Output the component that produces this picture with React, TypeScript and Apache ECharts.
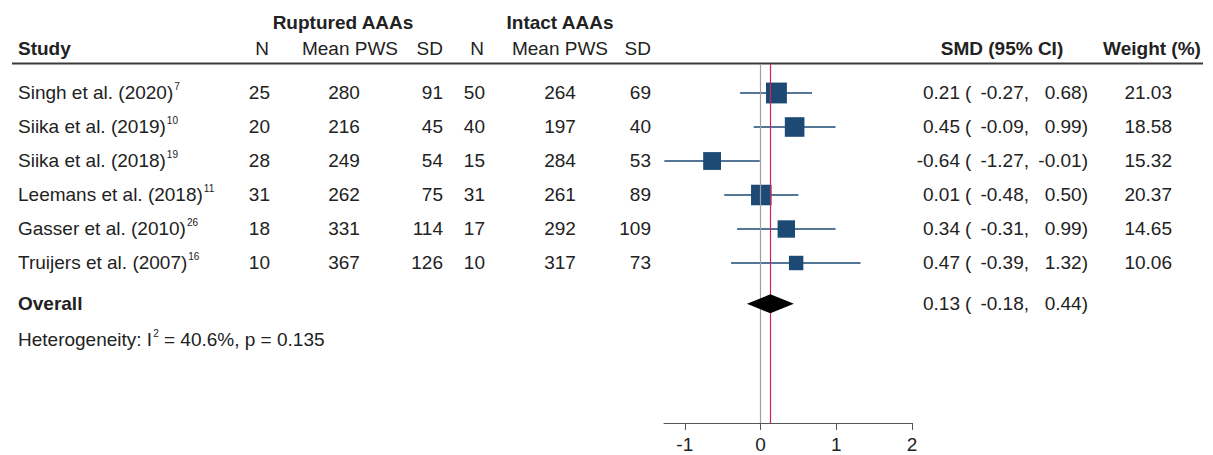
import React, { useEffect, useRef } from "react";
import * as echarts from "echarts";

// ---------- data ----------
const studies = [
  "Singh et al. (2020)",
  "Siika et al. (2019)",
  "Siika et al. (2018)",
  "Leemans et al. (2018)",
  "Gasser et al. (2010)",
  "Truijers et al. (2007)",
];
const refs = ["7", "10", "19", "11", "26", "16"];
const rupN = [25, 20, 28, 31, 18, 10];
const rupMean = [280, 216, 249, 262, 331, 367];
const rupSD = [91, 45, 54, 75, 114, 126];
const intN = [50, 40, 15, 31, 17, 10];
const intMean = [264, 197, 284, 261, 292, 317];
const intSD = [69, 40, 53, 89, 109, 73];
const smd = [0.21, 0.45, -0.64, 0.01, 0.34, 0.47];
const ciLow = [-0.27, -0.09, -1.27, -0.48, -0.31, -0.39];
const ciHigh = [0.68, 0.99, -0.01, 0.5, 0.99, 1.32];
const weights = [21.03, 18.58, 15.32, 20.37, 14.65, 10.06];
const overallSmd = 0.13;
const overallLow = -0.18;
const overallHigh = 0.44;
const hetI2 = 40.6;
const hetP = 0.135;
const xTicks = [-1, 0, 1, 2];

// ---------- layout (row units) ----------
const rowPos = [1, 2, 3, 4, 5, 6];
const overallPos = 7.2;
const hetPos = 8.24;
const headerPos = -0.32;
const groupPos = -1.06;
const rulePos = 0.13;

const FONT = "'Liberation Sans', Arial, Helvetica, sans-serif";
const TXT = "#222222";
const NAVY = "#1d4a74";

type Cell = { x: number; y: number; text: string; align: string; bold?: boolean; rich?: boolean };

function buildCells(): Cell[] {
  const cells: Cell[] = [];
  // group headers
  cells.push({ x: 343, y: groupPos, text: "Ruptured AAAs", align: "center", bold: true });
  cells.push({ x: 560, y: groupPos, text: "Intact AAAs", align: "center", bold: true });
  // column headers
  cells.push({ x: 18, y: headerPos, text: "Study", align: "left", bold: true });
  cells.push({ x: 269, y: headerPos, text: "N", align: "right" });
  cells.push({ x: 350, y: headerPos, text: "Mean PWS", align: "center" });
  cells.push({ x: 443, y: headerPos, text: "SD", align: "right" });
  cells.push({ x: 484, y: headerPos, text: "N", align: "right" });
  cells.push({ x: 560, y: headerPos, text: "Mean PWS", align: "center" });
  cells.push({ x: 651, y: headerPos, text: "SD", align: "right" });
  cells.push({ x: 1002, y: headerPos, text: "SMD (95% CI)", align: "center", bold: true });
  cells.push({ x: 1152, y: headerPos, text: "Weight (%)", align: "center", bold: true });
  // rows
  studies.forEach((s, i) => {
    const y = rowPos[i];
    cells.push({ x: 18, y, text: `{m|${s}}{s|${refs[i]}}`, align: "left", rich: true });
    cells.push({ x: 270, y, text: String(rupN[i]), align: "right" });
    cells.push({ x: 344, y, text: String(rupMean[i]), align: "center" });
    cells.push({ x: 443, y, text: String(rupSD[i]), align: "right" });
    cells.push({ x: 485, y, text: String(intN[i]), align: "right" });
    cells.push({ x: 560, y, text: String(intMean[i]), align: "center" });
    cells.push({ x: 651, y, text: String(intSD[i]), align: "right" });
    cells.push({ x: 960, y, text: smd[i].toFixed(2), align: "right" });
    cells.push({ x: 965, y, text: "(", align: "left" });
    cells.push({ x: 1029, y, text: ciLow[i].toFixed(2) + ",", align: "right" });
    cells.push({ x: 1088, y, text: ciHigh[i].toFixed(2) + ")", align: "right" });
    cells.push({ x: 1172, y, text: weights[i].toFixed(2), align: "right" });
  });
  // overall
  cells.push({ x: 18, y: overallPos, text: "Overall", align: "left", bold: true });
  cells.push({ x: 960, y: overallPos, text: overallSmd.toFixed(2), align: "right" });
  cells.push({ x: 965, y: overallPos, text: "(", align: "left" });
  cells.push({ x: 1029, y: overallPos, text: overallLow.toFixed(2) + ",", align: "right" });
  cells.push({ x: 1088, y: overallPos, text: overallHigh.toFixed(2) + ")", align: "right" });
  // heterogeneity
  cells.push({
    x: 18,
    y: hetPos,
    text: `{m|Heterogeneity: I}{s|2}{m| = ${hetI2.toFixed(1)}%, p = ${hetP.toFixed(3)}}`,
    align: "left",
    rich: true,
  });
  return cells;
}

export default function App() {
  const ref = useRef<HTMLDivElement>(null);

  useEffect(() => {
    if (!ref.current) return;
    const chart = echarts.init(ref.current, undefined, { renderer: "svg" });
    const cells = buildCells();

    const richStyles = {
      m: { fontSize: 19, fontFamily: FONT, fill: TXT, lineHeight: 22 },
      s: { fontSize: 10, fontFamily: FONT, fill: TXT, lineHeight: 10, verticalAlign: "top", padding: [0, 0, 0, 1] },
    };

    const option: any = {
      animation: false,
      backgroundColor: "#ffffff",
      grid: [
        { left: 664, right: 301, top: 64, bottom: 32 },
        { left: 0, right: 0, top: 0, bottom: 0 },
      ],
      xAxis: [
        {
          type: "value",
          gridIndex: 0,
          min: -1.275,
          max: 2,
          splitLine: { show: false },
          axisLine: { show: true, onZero: false, lineStyle: { color: "#555555", width: 1 } },
          axisTick: { show: true, length: 7, customValues: xTicks, lineStyle: { color: "#555555" } },
          axisLabel: {
            show: true,
            customValues: xTicks,
            fontSize: 19,
            fontFamily: FONT,
            color: TXT,
            margin: 12,
          },
        },
        { type: "value", gridIndex: 1, min: 0, max: 1213, show: false },
      ],
      yAxis: [
        { type: "value", gridIndex: 0, inverse: true, min: 0.147, max: 10.706, show: false },
        { type: "value", gridIndex: 1, inverse: true, min: -1.735, max: 11.647, show: false },
      ],
      series: [
        // reference lines
        {
          type: "line",
          xAxisIndex: 0,
          yAxisIndex: 0,
          data: [],
          z: 1,
          markLine: {
            silent: true,
            symbol: "none",
            label: { show: false },
            data: [
              { xAxis: 0, lineStyle: { color: "#a0a0a0", width: 1.2, type: "solid" } },
              { xAxis: overallSmd, lineStyle: { color: "#d0245e", width: 1.2, type: "solid" } },
            ],
          },
        },
        // CI whiskers
        {
          type: "custom",
          xAxisIndex: 0,
          yAxisIndex: 0,
          z: 3,
          data: studies.map((_, i) => [ciLow[i], ciHigh[i], rowPos[i]]),
          renderItem: (params: any, api: any) => {
            const a = api.coord([api.value(0), api.value(2)]);
            const b = api.coord([api.value(1), api.value(2)]);
            return {
              type: "line",
              shape: { x1: a[0], y1: a[1], x2: b[0], y2: b[1] },
              style: { stroke: NAVY, lineWidth: 1.5 },
            };
          },
        },
        // weight squares
        {
          type: "scatter",
          xAxisIndex: 0,
          yAxisIndex: 0,
          z: 4,
          symbol: "rect",
          data: studies.map((_, i) => [smd[i], rowPos[i], weights[i]]),
          symbolSize: (val: number[]) => 4.55 * Math.sqrt(val[2]),
          itemStyle: { color: NAVY, opacity: 1 },
          silent: true,
        },
        // overall diamond
        {
          type: "custom",
          xAxisIndex: 0,
          yAxisIndex: 0,
          z: 5,
          data: [[overallLow, overallSmd, overallHigh, overallPos]],
          renderItem: (params: any, api: any) => {
            const l = api.coord([api.value(0), api.value(3)]);
            const c = api.coord([api.value(1), api.value(3)]);
            const r = api.coord([api.value(2), api.value(3)]);
            const h = 9.5;
            return {
              type: "polygon",
              shape: { points: [l, [c[0], c[1] - h], r, [c[0], c[1] + h]] },
              style: { fill: "#000000" },
            };
          },
        },
        // header rule
        {
          type: "custom",
          xAxisIndex: 1,
          yAxisIndex: 1,
          z: 2,
          data: [[12, 1203, rulePos]],
          renderItem: (params: any, api: any) => {
            const a = api.coord([api.value(0), api.value(2)]);
            const b = api.coord([api.value(1), api.value(2)]);
            return {
              type: "line",
              shape: { x1: a[0], y1: a[1], x2: b[0], y2: b[1] },
              style: { stroke: "#3a3a3a", lineWidth: 2 },
            };
          },
        },
        // table texts
        {
          type: "custom",
          xAxisIndex: 1,
          yAxisIndex: 1,
          z: 6,
          data: cells.map((c) => [c.x, c.y]),
          renderItem: (params: any, api: any) => {
            const c = cells[params.dataIndex];
            const p = api.coord([api.value(0), api.value(1)]);
            const style: any = {
              text: c.text,
              fill: TXT,
              fontSize: 19,
              fontFamily: FONT,
              fontWeight: c.bold ? "bold" : "normal",
              align: c.align,
              verticalAlign: "middle",
            };
            if (c.rich) style.rich = richStyles;
            return { type: "text", x: p[0], y: p[1], style };
          },
        },
      ],
    };

    chart.setOption(option);
    return () => chart.dispose();
  }, []);

  return (
    <div
      ref={ref}
      style={{ position: "absolute", left: 0, top: 0, width: 1213, height: 455, background: "#fff" }}
    />
  );
}
